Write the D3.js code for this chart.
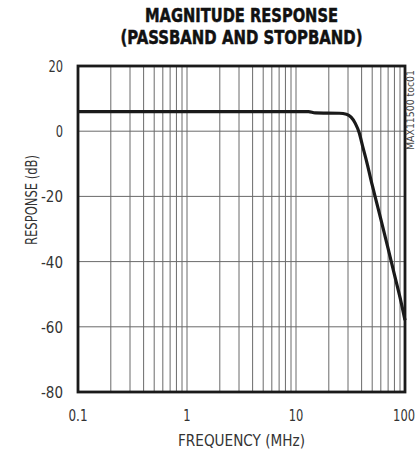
<!DOCTYPE html>
<html>
<head>
    <title>Magnitude Response</title>
    <script src="https://cdnjs.cloudflare.com/ajax/libs/d3/7.8.5/d3.min.js"></script>
    <style>
        body {
            margin: 0;
            background-color: #fff;
        }

        text {
            font-family: "Liberation Sans Narrow", "DejaVu Sans Condensed", "Arial Narrow", sans-serif;
        }

        .title {
            font-weight: bold;
            font-size: 20px;
            fill: #111;
            stroke: #111;
            stroke-width: 0.5px;
        }

        .tick-label {
            font-size: 16px;
            fill: #333;
        }

        .axis-title {
            font-size: 16px;
            fill: #333;
        }

        .grid {
            stroke: #6a6a6a;
            stroke-width: 1px;
        }

        .curve {
            fill: none;
            stroke: #1a1a1a;
            stroke-width: 3.2px;
        }

        .frame {
            fill: none;
            stroke: #1a1a1a;
            stroke-width: 2.8px;
        }
    </style>
</head>

<body>
    <div id="chart"></div>

    <script>
        // frequency (MHz) and response (dB)
        const freq = [0.1, 1, 10, 13, 15, 25, 29, 32, 35, 38, 41, 45, 50, 55, 60, 70, 80, 90, 100];
        const response = [6, 6, 6, 6, 5.6, 5.5, 5.2, 4.3, 2.4, -0.5, -4.8, -10, -16.5, -22, -27, -36, -44, -51, -58];

        const xTicks = [0.1, 1, 10, 100];
        const xTickLabels = ["0.1", "1", "10", "100"];
        const yTicks = [20, 0, -20, -40, -60, -80];

        const width = 417, height = 456;
        const mLeft = 78, mRight = 405, mTop = 66, mBottom = 392;

        // narrow the fallback font down to the reference's condensed widths
        const charW = c => c === "." ? 4.4 : (c === "-" ? 7.4 : 7.3);
        const labelLen = s => d3.sum(String(s).split(""), charW);

        const svg = d3.select("#chart").append("svg")
            .attr("width", width)
            .attr("height", height);

        const x = d3.scaleLog().domain([0.1, 100]).range([mLeft, mRight]);
        const y = d3.scaleLinear().domain([-80, 20]).range([mBottom, mTop]);

        // minor + major vertical grid lines (1..9 per decade)
        const vLines = [];
        [0.1, 1, 10].forEach(d => {
            for (let k = 2; k <= 9; k++) vLines.push(d * k);
        });
        vLines.push(1, 10);

        svg.selectAll(".vgrid")
            .data(vLines)
            .enter().append("line")
            .attr("class", "grid")
            .attr("x1", d => x(d)).attr("x2", d => x(d))
            .attr("y1", mTop).attr("y2", mBottom);

        svg.selectAll(".hgrid")
            .data(yTicks.filter(d => d > -80 && d < 20))
            .enter().append("line")
            .attr("class", "grid")
            .attr("x1", mLeft).attr("x2", mRight)
            .attr("y1", d => y(d)).attr("y2", d => y(d));

        const line = d3.line()
            .x((d, i) => x(freq[i]))
            .y(d => y(d))
            .curve(d3.curveMonotoneX);

        svg.append("path")
            .datum(response)
            .attr("class", "curve")
            .attr("d", line);

        svg.append("rect")
            .attr("class", "frame")
            .attr("x", mLeft).attr("y", mTop)
            .attr("width", mRight - mLeft).attr("height", mBottom - mTop);

        // tick labels
        svg.selectAll(".ylabel")
            .data(yTicks)
            .enter().append("text")
            .attr("class", "tick-label")
            .attr("x", 63)
            .attr("y", d => y(d) + 6)
            .attr("text-anchor", "end")
            .attr("textLength", d => labelLen(d))
            .attr("lengthAdjust", "spacingAndGlyphs")
            .text(d => d);

        // last label sits against the right edge, like the reference
        svg.selectAll(".xlabel")
            .data(xTicks)
            .enter().append("text")
            .attr("class", "tick-label")
            .attr("x", (d, i) => i === xTicks.length - 1 ? width - 2 : x(d))
            .attr("y", 421)
            .attr("text-anchor", (d, i) => i === xTicks.length - 1 ? "end" : "middle")
            .attr("textLength", (d, i) => labelLen(xTickLabels[i]))
            .attr("lengthAdjust", "spacingAndGlyphs")
            .text((d, i) => xTickLabels[i]);

        // titles
        svg.append("text")
            .attr("class", "title")
            .attr("x", 241.5).attr("y", 22)
            .attr("text-anchor", "middle")
            .attr("textLength", 193).attr("lengthAdjust", "spacingAndGlyphs")
            .text("MAGNITUDE RESPONSE");

        svg.append("text")
            .attr("class", "title")
            .attr("x", 241.5).attr("y", 44)
            .attr("text-anchor", "middle")
            .attr("textLength", 242).attr("lengthAdjust", "spacingAndGlyphs")
            .text("(PASSBAND AND STOPBAND)");

        svg.append("text")
            .attr("class", "axis-title")
            .attr("x", 241.5).attr("y", 446)
            .attr("text-anchor", "middle")
            .attr("textLength", 127).attr("lengthAdjust", "spacingAndGlyphs")
            .text("FREQUENCY (MHz)");

        svg.append("text")
            .attr("class", "axis-title")
            .attr("transform", "translate(37,200) rotate(-90)")
            .attr("text-anchor", "middle")
            .attr("textLength", 90).attr("lengthAdjust", "spacingAndGlyphs")
            .text("RESPONSE (dB)");

        svg.append("text")
            .attr("transform", "translate(414,110) rotate(-90)")
            .attr("text-anchor", "middle")
            .attr("textLength", 80).attr("lengthAdjust", "spacingAndGlyphs")
            .style("font-size", "10px")
            .style("fill", "#444")
            .text("MAX11500 toc01");
    </script>
</body>
</html>
